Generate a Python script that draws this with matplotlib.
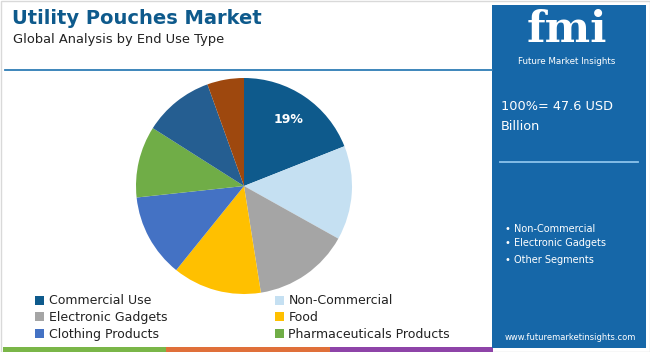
import matplotlib
matplotlib.use("Agg")
import matplotlib.pyplot as plt
from matplotlib.patches import Rectangle, Patch
import numpy as np

W, H = 650, 352

title = "Utility Pouches Market"
subtitle = "Global Analysis by End Use Type"
categories = ["Commercial Use", "Non-Commercial", "Electronic Gadgets", "Food",
              "Clothing Products", "Pharmaceuticals Products", "Other A", "Other B"]
shares = [19.0, 14.1, 14.4, 13.3, 12.5, 10.7, 10.5, 5.5]
colors = ["#0E5A8C", "#C5E0F2", "#A5A5A5", "#FFC000", "#4472C4", "#70AD47", "#255E91", "#9E480E"]
legend_count = 6
label_text = "19%"
total_lines = ["100%= 47.6 USD", "Billion"]
bullets = ["Non-Commercial", "Electronic Gadgets", "Other Segments"]
website = "www.futuremarketinsights.com"

fig = plt.figure(figsize=(W / 100, H / 100), dpi=100)
fig.patch.set_facecolor("white")

bg = fig.add_axes([0, 0, 1, 1])
bg.set_xlim(0, W)
bg.set_ylim(H, 0)
bg.axis("off")

bg.add_patch(Rectangle((0.5, 0.5), W - 1, H - 1, fill=False, edgecolor="#D9D9D9", lw=1))

bg.text(12, 18, title, fontsize=14, fontweight="bold", color="#0E5A8C",
        va="center", ha="left", family="DejaVu Sans")
bg.text(13, 40, subtitle, fontsize=9.4, color="#222222", va="center", ha="left",
        family="DejaVu Sans")
bg.plot([5, 492], [70, 70], color="#2E7DB5", lw=1.3)

bg.add_patch(Rectangle((3, 347), 163, 5, color="#7AB648", lw=0))
bg.add_patch(Rectangle((166, 347), 164, 5, color="#E0703A", lw=0))
bg.add_patch(Rectangle((330, 347), 163, 5, color="#8E44A8", lw=0))

bg.add_patch(Rectangle((492, 5), 154, 343, color="#1667A8", lw=0))
bg.text(567, 30, "fmi", fontsize=31, fontweight="bold", color="white",
        ha="center", va="center", family="DejaVu Serif")
bg.text(567, 61, "Future Market Insights", fontsize=6.3, color="white",
        ha="center", va="center")
bg.text(501, 107, total_lines[0], fontsize=9.3, color="white", ha="left", va="center")
bg.text(501, 126, total_lines[1], fontsize=9.3, color="white", ha="left", va="center")
bg.plot([500, 638], [162, 162], color="#8CC3EC", lw=1.3)
for i, b in enumerate(bullets):
    y = [229, 243, 260][i]
    bg.text(505, y, "\u2022 " + b, fontsize=7.0, color="white", ha="left", va="center")
bg.text(570, 337, website, fontsize=6.0, color="white", ha="center", va="center")

cx, cy, r = 244, 186, 108
ax = fig.add_axes([(cx - r) / W, (H - cy - r) / H, 2 * r / W, 2 * r / H])
wedges, texts = ax.pie(shares, colors=colors, startangle=90, counterclock=False,
                       wedgeprops=dict(linewidth=0))
ax.set_xlim(-1.0, 1.0)
ax.set_ylim(-1.0, 1.0)
ax.set_aspect("equal")
mid = 90 - shares[0] / 100 * 360 / 2
ax.text(0.74 * np.cos(np.radians(mid)), 0.74 * np.sin(np.radians(mid)), label_text,
        color="white", fontsize=9, fontweight="bold", ha="center", va="center")

order = [0, 2, 4, 1, 3, 5]
handles = [Patch(facecolor=colors[i], edgecolor="none") for i in order]
labels = [categories[i] for i in order]
leg = fig.legend(handles, labels, ncol=2,
                 loc="upper left", bbox_to_anchor=(35 / W, 1 - 294.5 / H),
                 frameon=False, fontsize=9, handlelength=0.75, handleheight=0.75,
                 handletextpad=0.35, columnspacing=8.6, labelspacing=0.3,
                 borderpad=0, borderaxespad=0)
for t in leg.get_texts():
    t.set_color("#222222")

fig.savefig("out.png", dpi=100)
